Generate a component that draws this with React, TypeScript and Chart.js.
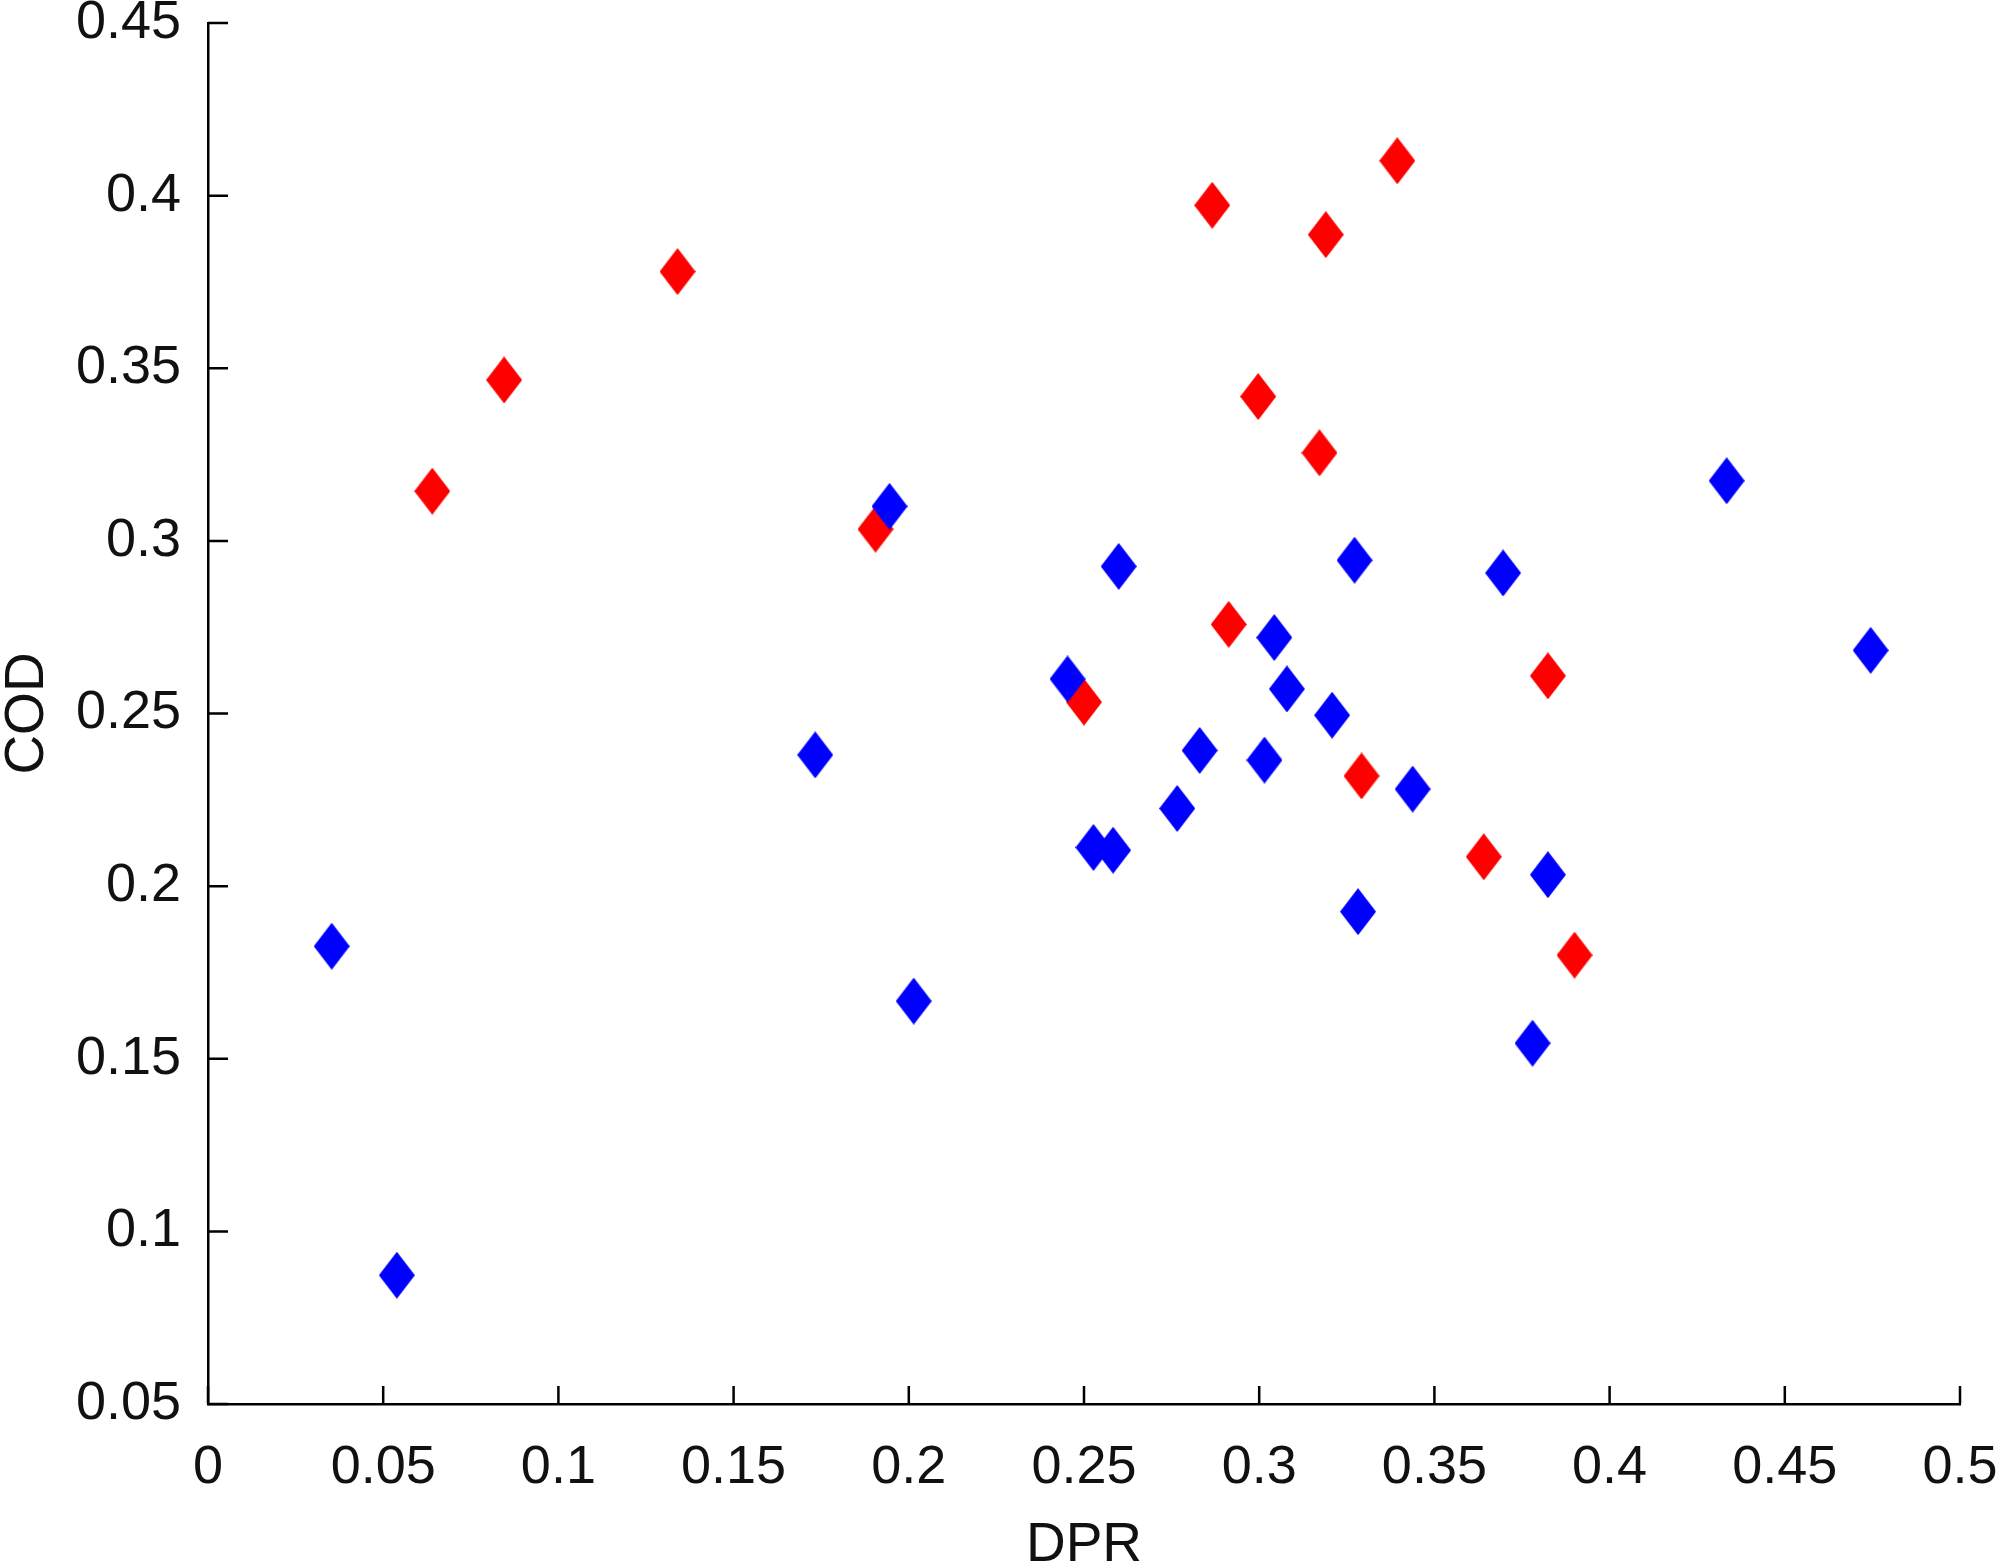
import React, {useEffect, useRef} from "react";
import {Chart, registerables} from 'chart.js';

Chart.register(...registerables);

// DPR (x) and COD (y)
const redX = [0.064, 0.0845, 0.134, 0.1905, 0.25, 0.2866, 0.2913, 0.2997, 0.3172, 0.319, 0.3394, 0.3292, 0.3641, 0.3824, 0.39];
const redY = [0.3144, 0.3466, 0.378, 0.3034, 0.2533, 0.3972, 0.2758, 0.3418, 0.3255, 0.3887, 0.4101, 0.2319, 0.2085, 0.2609, 0.18];

const blueX = [0.0353, 0.0539, 0.1733, 0.1945, 0.2014, 0.2453, 0.2527, 0.2583, 0.2599, 0.2766, 0.283, 0.3015, 0.3043, 0.3079, 0.3208, 0.3272, 0.3282, 0.3438, 0.3696, 0.378, 0.3824, 0.4334, 0.4745];
const blueY = [0.1826, 0.0873, 0.238, 0.31, 0.1667, 0.26, 0.2112, 0.2104, 0.2926, 0.2225, 0.2393, 0.2365, 0.272, 0.2571, 0.2495, 0.2944, 0.1926, 0.2281, 0.2907, 0.1545, 0.2033, 0.3174, 0.2683];

const xTicks = [0, 0.05, 0.1, 0.15, 0.2, 0.25, 0.3, 0.35, 0.4, 0.45, 0.5];
const yTicks = [0.05, 0.1, 0.15, 0.2, 0.25, 0.3, 0.35, 0.4, 0.45];

const W = 2000;
const H = 1568;

// tall diamond marker, like matlab's 'd'
function diamond(color: string) {
    const c = document.createElement('canvas');
    c.width = 36;
    c.height = 47;
    const g = c.getContext('2d')!;
    g.fillStyle = color;
    g.beginPath();
    g.moveTo(18, 0);
    g.lineTo(36, 23.5);
    g.lineTo(18, 47);
    g.lineTo(0, 23.5);
    g.closePath();
    g.fill();
    return c;
}

// matlab style ticks pointing into the plot
const inwardTicks = {
    id: 'inwardTicks',
    afterDraw(chart: any) {
        const {ctx, scales: {x, y}} = chart;
        const bottom = x.top;
        const left = y.right;
        ctx.save();
        ctx.strokeStyle = '#000';
        ctx.lineWidth = 2.5;
        ctx.beginPath();
        xTicks.forEach(v => {
            const px = x.getPixelForValue(v);
            ctx.moveTo(px, bottom);
            ctx.lineTo(px, bottom - 18);
        });
        yTicks.forEach(v => {
            const py = y.getPixelForValue(v);
            ctx.moveTo(left, py);
            ctx.lineTo(left + 20, py);
        });
        ctx.stroke();
        ctx.restore();
    },
};

const font = {family: '"Liberation Sans", Arial, sans-serif', size: 54};
const titleFont = {family: '"Liberation Sans", Arial, sans-serif', size: 55, lineHeight: 0.8};
const ink = '#111';

const App: React.FC = () => {
    const canvasRef = useRef<HTMLCanvasElement>(null);

    useEffect(() => {
        if (!canvasRef.current) return;
        const ctx = canvasRef.current.getContext('2d');
        if (!ctx) return;

        const chart = new Chart(ctx, {
            type: 'scatter',
            data: {
                datasets: [
                    {
                        label: 'blue',
                        data: blueX.map((x, i) => ({x, y: blueY[i]})),
                        pointStyle: diamond('#0000ff'),
                        pointRadius: 20,
                        backgroundColor: '#0000ff',
                    },
                    {
                        label: 'red',
                        data: redX.map((x, i) => ({x, y: redY[i]})),
                        pointStyle: diamond('#ff0000'),
                        pointRadius: 20,
                        backgroundColor: '#ff0000',
                    },
                ],
            },
            plugins: [inwardTicks],
            options: {
                responsive: false,
                animation: false,
                devicePixelRatio: 1,
                layout: {autoPadding: false, padding: {top: 23, right: 40, left: 0, bottom: 0}},
                plugins: {
                    legend: {display: false},
                    tooltip: {enabled: false},
                },
                scales: {
                    x: {
                        type: 'linear',
                        min: 0,
                        max: 0.5,
                        afterBuildTicks: (s: any) => {
                            s.ticks = xTicks.map(v => ({value: v}));
                        },
                        afterFit: (s: any) => {
                            s.height = H - 1404;
                            s.paddingLeft = 0;
                            s.paddingRight = 0;
                        },
                        border: {display: true, color: '#000', width: 2.5},
                        grid: {display: false, drawTicks: false},
                        ticks: {
                            font,
                            color: ink,
                            padding: 32,
                            maxRotation: 0,
                            autoSkip: false,
                            callback: (v: any) => String(Number(Number(v).toFixed(2))),
                        },
                        title: {
                            display: true,
                            text: 'DPR',
                            font: titleFont,
                            color: ink,
                            padding: {top: 0, bottom: 0},
                        },
                    },
                    y: {
                        type: 'linear',
                        min: 0.05,
                        max: 0.45,
                        afterBuildTicks: (s: any) => {
                            s.ticks = yTicks.map(v => ({value: v}));
                        },
                        afterFit: (s: any) => {
                            s.width = 208;
                            s.paddingTop = 0;
                            s.paddingBottom = 0;
                        },
                        border: {display: true, color: '#000', width: 2.5},
                        grid: {display: false, drawTicks: false},
                        ticks: {
                            font,
                            color: ink,
                            padding: 27,
                            autoSkip: false,
                            callback: (v: any) => String(Number(Number(v).toFixed(2))),
                        },
                        title: {
                            display: true,
                            text: 'COD',
                            font: {...titleFont, lineHeight: 1},
                            color: ink,
                            padding: {top: 0, bottom: 0},
                        },
                    },
                },
            },
        });

        return () => {
            chart.destroy();
        };
    }, []);

    return (
        <div style={{position: 'absolute', left: 0, top: 0, width: W, height: H, background: '#fff'}}>
            <canvas ref={canvasRef} width={W} height={H}></canvas>
        </div>
    );
};

export default App;
